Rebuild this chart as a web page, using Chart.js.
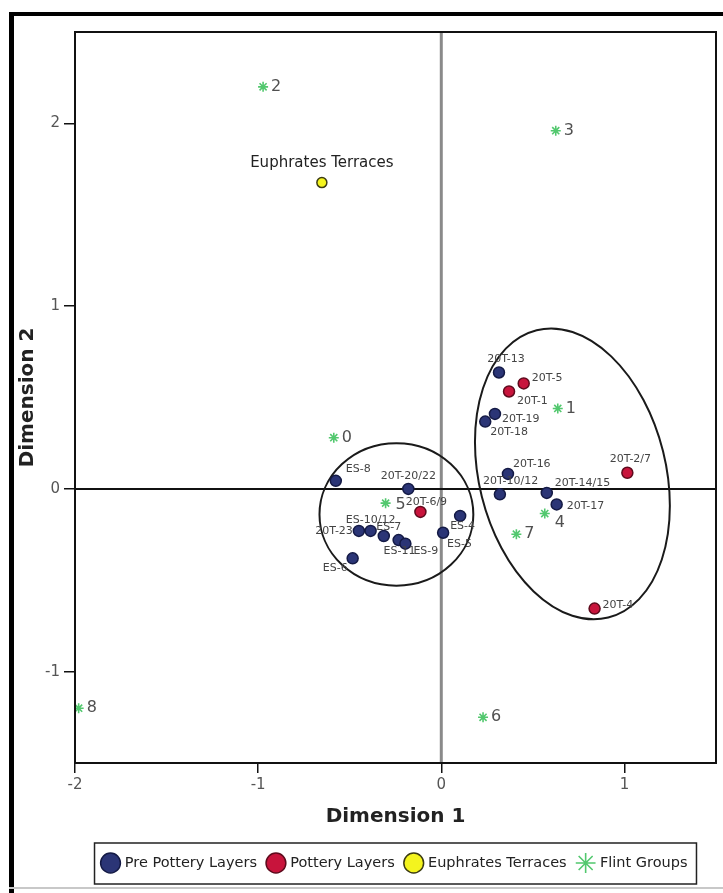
<!DOCTYPE html>
<html>
<head>
<meta charset="utf-8">
<title>Correspondence analysis: Dimension 1 vs Dimension 2</title>
<script src="https://cdn.jsdelivr.net/npm/chart.js@4.4.1/dist/chart.umd.min.js"></script>
<style>
  html, body { margin: 0; padding: 0; background: #fff; }
  canvas { display: block; }
</style>
</head>
<body>
<canvas id="chart" width="723" height="893"></canvas>
<script>
// Axis ticks
const xTickValues = [-2, -1, 0, 1];
const yTickValues = [-1, 0, 1, 2];

// Pre Pottery Layers
const prePotteryNames = ['ES-8', '20T-20/22', 'ES-4', 'ES-5', '20T-23', 'ES-10/12', 'ES-7', 'ES-11', 'ES-9', 'ES-6',
  '20T-13', '20T-19', '20T-18', '20T-16', '20T-10/12', '20T-14/15', '20T-17'];
const prePotteryDim1 = [-0.576, -0.18, 0.103, 0.01, -0.45, -0.386, -0.314, -0.233, -0.196, -0.484,
  0.315, 0.293, 0.24, 0.364, 0.32, 0.576, 0.63];
const prePotteryDim2 = [0.044, 0.0, -0.148, -0.24, -0.23, -0.23, -0.258, -0.28, -0.30, -0.38,
  0.637, 0.41, 0.368, 0.082, -0.03, -0.022, -0.085];

// Pottery Layers
const potteryNames = ['20T-6/9', '20T-1', '20T-5', '20T-2/7', '20T-4'];
const potteryDim1 = [-0.114, 0.37, 0.45, 1.016, 0.837];
const potteryDim2 = [-0.126, 0.533, 0.577, 0.088, -0.655];

// Euphrates Terraces
const terraceNames = ['Euphrates Terraces'];
const terraceDim1 = [-0.652];
const terraceDim2 = [1.676];

// Flint Groups
const flintNames = ['0', '1', '2', '3', '4', '5', '6', '7', '8'];
const flintDim1 = [-0.587, 0.636, -0.973, 0.625, 0.565, -0.304, 0.228, 0.41, -1.98];
const flintDim2 = [0.28, 0.44, 2.20, 1.96, -0.135, -0.078, -1.25, -0.248, -1.20];

// Group outlines (centre and semi-axes in axis units, rotation in degrees)
const groupOutlines = [
  { cx: -0.245, cy: -0.14, rx: 0.42, ry: 0.39, rot: 0 },
  { cx: 0.716, cy: 0.082, rx: 0.51, ry: 0.81, rot: -14 }
];

const FONT = "'DejaVu Sans', Verdana, sans-serif";

// Where each point label sits relative to its marker: [dx, dy, align]
const labelPlacement = {
  'ES-8': [10, -12, 'left'], '20T-20/22': [0, -13, 'center'], 'ES-4': [-10, 10, 'left'],
  'ES-5': [4, 11, 'left'], '20T-23': [-6, 0, 'right'], 'ES-10/12': [0, -11, 'center'],
  'ES-7': [5, -9, 'center'], 'ES-11': [-15, 11, 'left'], 'ES-9': [8, 7, 'left'],
  'ES-6': [-5, 10, 'right'], '20T-13': [7, -13, 'center'], '20T-19': [7, 5, 'left'],
  '20T-18': [5, 11, 'left'], '20T-16': [5, -10, 'left'], '20T-10/12': [-17, -13, 'left'],
  '20T-14/15': [8, -10, 'left'], '20T-17': [10, 2, 'left'],
  '20T-6/9': [6, -10, 'center'], '20T-1': [8, 10, 'left'], '20T-5': [8, -5, 'left'],
  '20T-2/7': [3, -14, 'center'], '20T-4': [8, -3, 'left'],
  'Euphrates Terraces': [0, -19, 'center']
};
const flintPlacement = { '4': [10, 9], '5': [10, 2] };

function toPoints(xs, ys) {
  return xs.map((x, i) => ({ x: x, y: ys[i] }));
}

// Page frame, white background
const framePlugin = {
  id: 'frame',
  beforeDraw(chart) {
    const ctx = chart.ctx;
    ctx.save();
    ctx.fillStyle = '#fff';
    ctx.fillRect(0, 0, chart.width, chart.height);
    ctx.fillStyle = '#000';
    ctx.fillRect(9, 12, 5, chart.height - 12);
    ctx.fillRect(9, 12, chart.width - 9, 4);
    ctx.fillStyle = '#c8c8c8';
    ctx.fillRect(9, 887, chart.width - 9, 2);
    ctx.restore();
  }
};

// Zero reference lines and group ellipses under the markers
const referencePlugin = {
  id: 'reference',
  beforeDatasetsDraw(chart) {
    const { ctx, chartArea: a, scales: { x, y } } = chart;
    ctx.save();
    ctx.beginPath();
    ctx.rect(a.left, a.top, a.right - a.left, a.bottom - a.top);
    ctx.clip();
    const x0 = x.getPixelForValue(0);
    const y0 = y.getPixelForValue(0);
    ctx.strokeStyle = '#8a8a8a';
    ctx.lineWidth = 3;
    ctx.beginPath(); ctx.moveTo(x0, a.top); ctx.lineTo(x0, a.bottom); ctx.stroke();
    ctx.strokeStyle = '#111';
    ctx.lineWidth = 2;
    ctx.beginPath(); ctx.moveTo(a.left, y0); ctx.lineTo(a.right, y0); ctx.stroke();
    groupOutlines.forEach(g => {
      const cx = x.getPixelForValue(g.cx);
      const cy = y.getPixelForValue(g.cy);
      const rx = Math.abs(x.getPixelForValue(g.cx + g.rx) - cx);
      const ry = Math.abs(y.getPixelForValue(g.cy + g.ry) - cy);
      ctx.strokeStyle = '#1a1a1a';
      ctx.lineWidth = 2;
      ctx.beginPath();
      ctx.ellipse(cx, cy, rx, ry, g.rot * Math.PI / 180, 0, Math.PI * 2);
      ctx.stroke();
    });
    ctx.restore();
  }
};

// Point labels
const labelPlugin = {
  id: 'pointLabels',
  afterDatasetsDraw(chart) {
    const ctx = chart.ctx;
    ctx.save();
    ctx.textBaseline = 'middle';
    chart.data.datasets.forEach((ds, di) => {
      const meta = chart.getDatasetMeta(di);
      meta.data.forEach((el, i) => {
        const name = ds.names[i];
        if (ds.isFlint) {
          const p = flintPlacement[name] || [8, 0];
          ctx.font = '16px ' + FONT;
          ctx.fillStyle = '#505050';
          ctx.textAlign = 'left';
          ctx.fillText(name, el.x + p[0], el.y + p[1]);
        } else {
          const p = labelPlacement[name] || [8, 0, 'left'];
          ctx.font = (ds.isTerrace ? '15px ' : '11px ') + FONT;
          ctx.fillStyle = ds.isTerrace ? '#222' : '#444';
          ctx.textAlign = p[2];
          ctx.fillText(name, el.x + p[0], el.y + p[1]);
        }
      });
    });
    ctx.restore();
  }
};

// Plot border and boxed legend
const borderPlugin = {
  id: 'borders',
  afterDraw(chart) {
    const { ctx, chartArea: a } = chart;
    ctx.save();
    ctx.strokeStyle = '#111';
    ctx.lineWidth = 2;
    ctx.strokeRect(a.left, a.top, a.right - a.left, a.bottom - a.top);
    const boxes = chart.legend && chart.legend.legendHitBoxes;
    if (boxes && boxes.length) {
      const left = Math.min(...boxes.map(b => b.left)) - 9;
      const right = Math.max(...boxes.map(b => b.left + b.width)) + 9;
      const mid = boxes[0].top + boxes[0].height / 2;
      ctx.lineWidth = 1.5;
      ctx.strokeStyle = '#222';
      ctx.strokeRect(left, mid - 20, right - left, 41);
    }
    ctx.restore();
  }
};

new Chart(document.getElementById('chart'), {
  type: 'scatter',
  data: {
    datasets: [
      {
        label: 'Pre Pottery Layers',
        data: toPoints(prePotteryDim1, prePotteryDim2),
        names: prePotteryNames,
        backgroundColor: '#2b3576',
        borderColor: '#141a45',
        borderWidth: 1.5,
        pointRadius: 5.5,
        pointStyle: 'circle'
      },
      {
        label: 'Pottery Layers',
        data: toPoints(potteryDim1, potteryDim2),
        names: potteryNames,
        backgroundColor: '#c8143c',
        borderColor: '#5e0a1c',
        borderWidth: 1.5,
        pointRadius: 5.5,
        pointStyle: 'circle'
      },
      {
        label: 'Euphrates Terraces',
        data: toPoints(terraceDim1, terraceDim2),
        names: terraceNames,
        isTerrace: true,
        backgroundColor: '#f4f41e',
        borderColor: '#3c3c12',
        borderWidth: 1.5,
        pointRadius: 5,
        pointStyle: 'circle'
      },
      {
        label: 'Flint Groups',
        data: toPoints(flintDim1, flintDim2),
        names: flintNames,
        isFlint: true,
        backgroundColor: '#5ccf77',
        borderColor: '#52c86e',
        borderWidth: 1.6,
        pointRadius: 5,
        pointStyle: 'star'
      }
    ]
  },
  options: {
    responsive: false,
    animation: false,
    devicePixelRatio: 1,
    layout: { padding: { left: 14, right: 5, top: 32, bottom: 12.75 } },
    plugins: {
      legend: {
        position: 'bottom',
        fullSize: false,
        labels: {
          usePointStyle: true,
          boxWidth: 14,
          boxHeight: 14,
          color: '#222',
          padding: 12,
          font: { size: 14.5, family: FONT }
        }
      },
      tooltip: { enabled: false }
    },
    scales: {
      x: {
        type: 'linear',
        min: -2,
        max: 1.5,
        afterBuildTicks: s => { s.ticks = xTickValues.map(v => ({ value: v })); },
        afterFit: s => { s.height = 80.75; },
        grid: { drawOnChartArea: false, drawTicks: true, tickLength: 10, color: '#111', lineWidth: 1.5 },
        border: { display: true, color: '#111', width: 2 },
        ticks: { color: '#555', padding: 3, font: { size: 15, family: FONT }, callback: v => String(v) },
        title: { display: true, text: 'Dimension 1', color: '#222', font: { size: 20, weight: 'bold', family: FONT }, padding: { top: 0, bottom: 14.75 } }
      },
      y: {
        type: 'linear',
        min: -1.5,
        max: 2.5,
        afterBuildTicks: s => { s.ticks = yTickValues.map(v => ({ value: v })); },
        afterFit: s => { s.width = 61; },
        grid: { drawOnChartArea: false, drawTicks: true, tickLength: 11, color: '#111', lineWidth: 1.5 },
        border: { display: true, color: '#111', width: 2 },
        ticks: { color: '#555', padding: 4, font: { size: 15, family: FONT }, callback: v => String(v) },
        title: { display: true, text: 'Dimension 2', color: '#222', font: { size: 20, weight: 'bold', family: FONT }, padding: { top: 2, bottom: 0 } }
      }
    }
  },
  plugins: [framePlugin, referencePlugin, labelPlugin, borderPlugin]
});
</script>
</body>
</html>
